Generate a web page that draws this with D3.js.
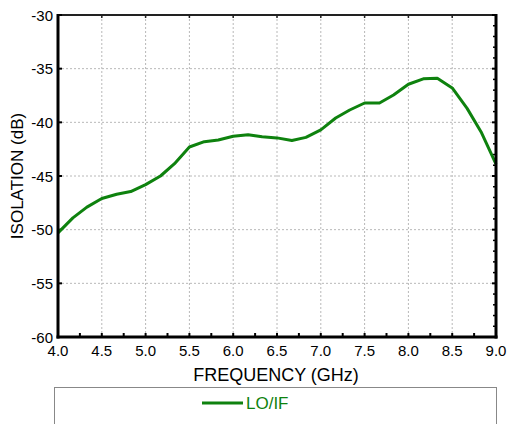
<!DOCTYPE html>
<html><head><meta charset="utf-8">
<script src="https://cdn.jsdelivr.net/npm/d3@7"></script>
<style>html,body{margin:0;padding:0;background:#fff;}svg{display:block;}</style>
</head><body>
<svg id="c" width="508" height="424"></svg>
<script>
const freq = [4.0,4.17,4.33,4.5,4.67,4.83,5.0,5.17,5.33,5.5,5.67,5.83,6.0,6.17,6.33,6.5,6.67,6.83,7.0,7.17,7.33,7.5,7.67,7.83,8.0,8.17,8.33,8.5,8.67,8.83,9.0];
const isolation = [-50.3,-48.9,-47.9,-47.1,-46.7,-46.45,-45.8,-45.0,-43.85,-42.3,-41.8,-41.65,-41.3,-41.15,-41.35,-41.45,-41.7,-41.4,-40.7,-39.6,-38.85,-38.2,-38.2,-37.45,-36.45,-35.95,-35.9,-36.8,-38.7,-40.9,-43.9];
const xTicks = [4.0,4.5,5.0,5.5,6.0,6.5,7.0,7.5,8.0,8.5,9.0];
const yTicks = [-30,-35,-40,-45,-50,-55,-60];
const xMinor = [4.25,4.75,5.25,5.75,6.25,6.75,7.25,7.75,8.25,8.75];
const yMinorRight = [-31,-32,-33,-34,-36,-37,-38,-39,-41,-42,-43,-44,-46,-47,-48,-49,-51,-52,-53,-54,-56,-57,-58,-59];
const seriesName = "LO/IF";
const xTitle = "FREQUENCY (GHz)";
const yTitle = "ISOLATION (dB)";

const L=58,R=496,T=15,B=337;
const green = "#0e820e";
const font = "Arial, 'Liberation Sans', sans-serif";
const svg = d3.select("#c");
const x = d3.scaleLinear().domain([4,9]).range([L,R]);
const y = d3.scaleLinear().domain([-60,-30]).range([B,T]);

// grid
const g = svg.append("g");
g.selectAll("line.gx").data(xTicks.slice(1,-1)).enter().append("line")
 .attr("x1",d=>x(d)).attr("x2",d=>x(d)).attr("y1",T).attr("y2",B)
 .attr("stroke","#b8b8b8").attr("stroke-width",1).attr("stroke-dasharray","2,2");
g.selectAll("line.gy").data(yTicks.slice(1,-1)).enter().append("line")
 .attr("x1",L).attr("x2",R).attr("y1",d=>y(d)).attr("y2",d=>y(d))
 .attr("stroke","#b8b8b8").attr("stroke-width",1).attr("stroke-dasharray","2,2");

// frame top
svg.append("line").attr("x1",L).attr("x2",R).attr("y1",T).attr("y2",T).attr("stroke","#222").attr("stroke-width",2);

// ticks
svg.selectAll("line.bm").data(xMinor.concat(xTicks)).enter().append("line")
 .attr("x1",d=>x(d)).attr("x2",d=>x(d)).attr("y1",B).attr("y2",B-4)
 .attr("stroke","#000").attr("stroke-width",2);
svg.selectAll("line.tm").data(xTicks).enter().append("line")
 .attr("x1",d=>x(d)).attr("x2",d=>x(d)).attr("y1",T).attr("y2",T+3)
 .attr("stroke","#222").attr("stroke-width",1.5);
svg.selectAll("line.rm").data(yMinorRight).enter().append("line")
 .attr("x1",R).attr("x2",R-3).attr("y1",d=>y(d)).attr("y2",d=>y(d))
 .attr("stroke","#000").attr("stroke-width",1.5);
svg.selectAll("line.rM").data(yTicks).enter().append("line")
 .attr("x1",R).attr("x2",R-4).attr("y1",d=>y(d)).attr("y2",d=>y(d))
 .attr("stroke","#000").attr("stroke-width",2);
svg.selectAll("line.lM").data(yTicks).enter().append("line")
 .attr("x1",L).attr("x2",L+4).attr("y1",d=>y(d)).attr("y2",d=>y(d))
 .attr("stroke","#000").attr("stroke-width",2);

// curve
const data = freq.map((f,i)=>[f,isolation[i]]);
svg.append("path").datum(data)
 .attr("d",d3.line().x(d=>x(d[0])).y(d=>y(d[1])))
 .attr("fill","none").attr("stroke",green).attr("stroke-width",3).attr("stroke-linejoin","round");

// axis lines
svg.append("line").attr("x1",L).attr("x2",L).attr("y1",T-1).attr("y2",B+1.5).attr("stroke","#000").attr("stroke-width",3);
svg.append("line").attr("x1",L-1.5).attr("x2",R+1.5).attr("y1",B).attr("y2",B).attr("stroke","#000").attr("stroke-width",3);
svg.append("line").attr("x1",R).attr("x2",R).attr("y1",T-1).attr("y2",B+1.5).attr("stroke","#000").attr("stroke-width",3);

// tick labels
svg.selectAll("text.xl").data(xTicks).enter().append("text")
 .attr("x",d=>x(d)).attr("y",355.5).attr("text-anchor","middle")
 .attr("font-family",font).attr("font-size",15).attr("fill","#000")
 .text(d=>d.toFixed(1));
svg.selectAll("text.yl").data(yTicks).enter().append("text")
 .attr("x",53).attr("y",d=>y(d)+5.5).attr("text-anchor","end")
 .attr("font-family",font).attr("font-size",15).attr("fill","#000")
 .text(d=>d);

// titles
svg.append("text").attr("x",(L+R)/2-1).attr("y",381).attr("text-anchor","middle")
 .attr("font-family",font).attr("font-size",18).attr("fill","#000").text(xTitle);
svg.append("text").attr("transform",`translate(23,${(T+B)/2}) rotate(-90)`).attr("text-anchor","middle")
 .attr("font-family",font).attr("font-size",17).attr("fill","#000").text(yTitle);

// legend
svg.append("rect").attr("x",54.5).attr("y",387.5).attr("width",442).attr("height",60)
 .attr("fill","#fff").attr("stroke","#888").attr("stroke-width",1);
svg.append("line").attr("x1",202).attr("x2",243).attr("y1",403).attr("y2",403).attr("stroke",green).attr("stroke-width",3);
svg.append("text").attr("x",246).attr("y",409).attr("font-family",font).attr("font-size",17)
 .attr("fill",green).text(seriesName);
</script>
</body></html>
